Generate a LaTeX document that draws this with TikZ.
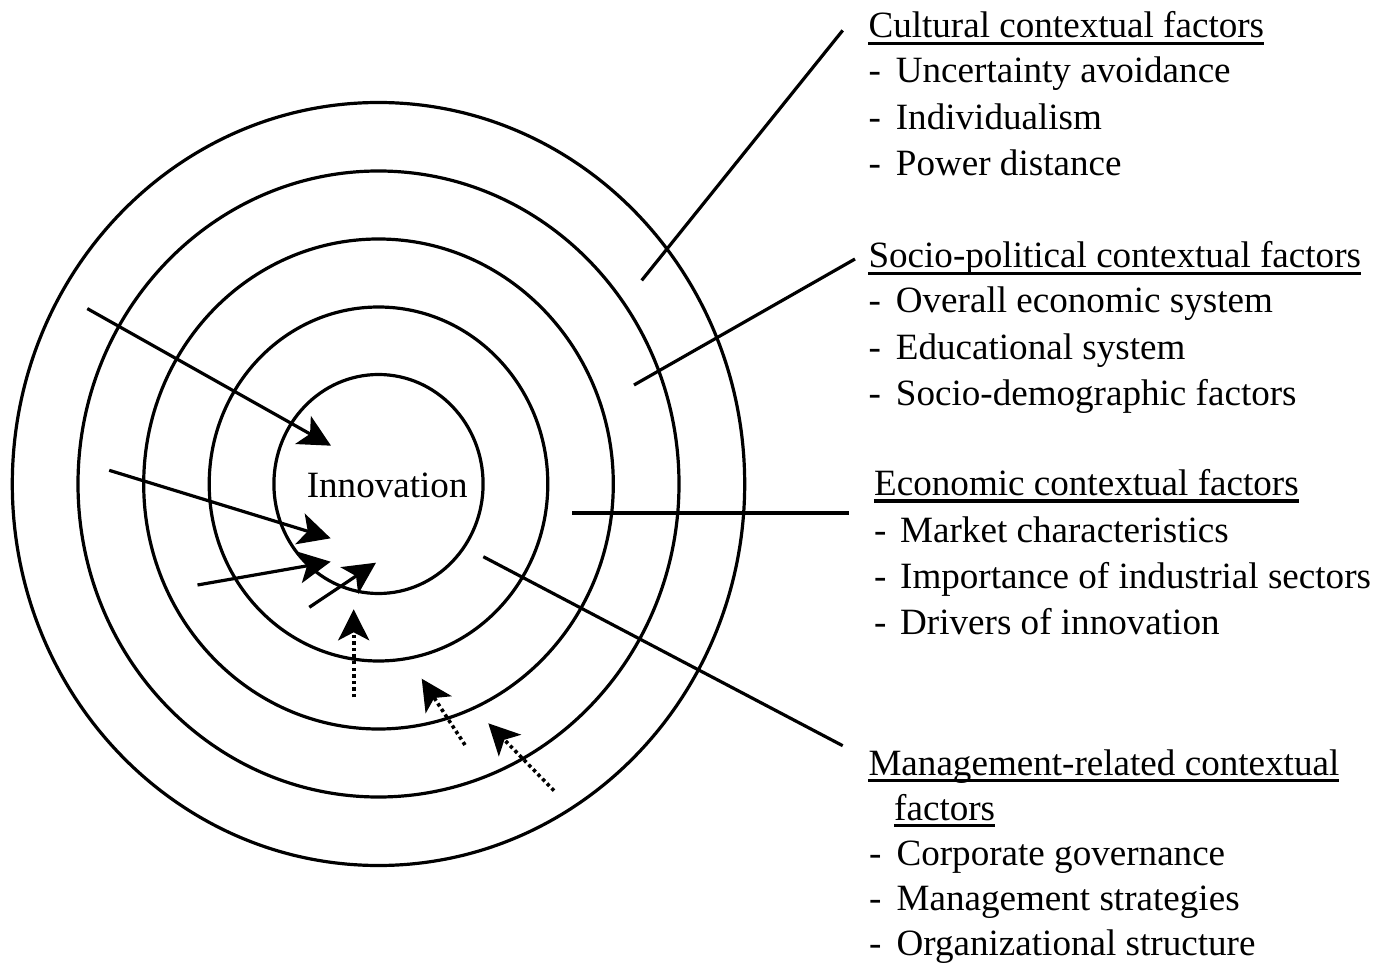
\documentclass[tikz,border=0pt]{standalone}
\usepackage{fontspec}
\setmainfont{Liberation Serif}
\usetikzlibrary{arrows.meta}
\newcommand\dashitem[2][27.4pt]{\makebox[#1][l]{-}#2}
\begin{document}
\begin{tikzpicture}[x=1pt,y=-1pt,
  ring/.style={line width=3.2pt},
  link/.style={line width=3.2pt},
  solidarrow/.style={line width=3.2pt,-{Stealth[length=32pt,width=32pt,inset=8pt]}},
  dotarrow/.style={line width=3.6pt,dash pattern=on 3.4pt off 3.2pt,-{Stealth[length=31pt,width=31pt,inset=8pt]}},
  lbl/.style={anchor=base west,inner sep=0pt,font=\fontsize{37.1}{44}\selectfont},
  uline/.style={line width=3.2pt}]
\useasboundingbox (0,0) rectangle (1379,965);

% concentric rings
\coordinate (ctr) at (378.5,484);
\draw[ring] (ctr) ellipse [x radius=366.2pt, y radius=381.5pt];
\draw[ring] (ctr) ellipse [x radius=300.5pt, y radius=313pt];
\draw[ring] (ctr) ellipse [x radius=234.8pt, y radius=245pt];
\draw[ring] (ctr) ellipse [x radius=169.3pt, y radius=177pt];
\draw[ring] (ctr) ellipse [x radius=104.6pt, y radius=109.5pt];

\node[anchor=base,inner sep=0pt,font=\fontsize{37.1}{44}\selectfont] (inn) at (387.2,497) {Innovation};

% labels
\node[lbl] (c0) at (868.3,38) {Cultural contextual factors};
\node[lbl] (c1) at (868.3,83) {\dashitem{Uncertainty avoidance}};
\node[lbl] (c2) at (868.3,129.5) {\dashitem{Individualism}};
\node[lbl] (c3) at (868.3,176) {\dashitem{Power distance}};

\node[lbl] (s0) at (868.3,268) {Socio-political contextual factors};
\node[lbl] (s1) at (868.3,313) {\dashitem{Overall economic system}};
\node[lbl] (s2) at (868.3,359.5) {\dashitem{Educational system}};
\node[lbl] (s3) at (868.3,406) {\dashitem{Socio-demographic factors}};

\node[lbl] (e0) at (874,495.5) {Economic contextual factors};
\node[lbl] (e1) at (874,542) {\dashitem[26pt]{Market characteristics}};
\node[lbl] (e2) at (874,588) {\dashitem[26pt]{Importance of industrial sectors}};
\node[lbl] (e3) at (874,634) {\dashitem[26pt]{Drivers of innovation}};

\node[lbl] (m0) at (868.3,775) {Management-related contextual};
\node[lbl] (m0b) at (894,820) {factors};
\node[lbl] (m1) at (869,865) {\dashitem{Corporate governance}};
\node[lbl] (m2) at (869,910) {\dashitem{Management strategies}};
\node[lbl] (m3) at (869,955) {\dashitem{Organizational structure}};

% underlines
\foreach \h in {c0,s0,e0,m0,m0b}
  \draw[uline] ([yshift=-5.5pt]\h.base west) -- ([yshift=-5.5pt]\h.base east);

% connector lines to the labels
\coordinate (cultIn) at (641.7,280.4);  \coordinate (cultOut) at (842.7,30.4);
\coordinate (socIn) at (634,385);       \coordinate (socOut) at (855,259);
\coordinate (ecoIn) at (572.3,513);     \coordinate (ecoOut) at (849.3,513);
\coordinate (manIn) at (483.3,556.7);   \coordinate (manOut) at (842.7,745.7);
\draw[link] (cultIn) -- (cultOut);
\draw[link] (socIn) -- (socOut);
\draw[link] (ecoIn) -- (ecoOut);
\draw[link] (manIn) -- (manOut);

% solid arrows
\coordinate (a1s) at (87.3,308.6);  \coordinate (a1t) at (331,445.7);
\coordinate (a2s) at (109.2,470.3); \coordinate (a2t) at (330.7,538.3);
\coordinate (a3s) at (197.5,585);   \coordinate (a3t) at (330.7,561.7);
\coordinate (a4s) at (309.3,607.3); \coordinate (a4t) at (376,562.7);
\draw[solidarrow] (a1s) -- (a1t);
\draw[solidarrow] (a2s) -- (a2t);
\draw[solidarrow] (a3s) -- (a3t);
\draw[solidarrow] (a4s) -- (a4t);

% dotted arrows
\coordinate (d1s) at (353.7,697.3); \coordinate (d1t) at (353.7,609.3);
\coordinate (d2s) at (465,745);     \coordinate (d2t) at (421.7,678.7);
\coordinate (d3s) at (554,790.7);   \coordinate (d3t) at (488.3,723.3);
\draw[dotarrow] (d1s) -- (d1t);
\draw[dotarrow] (d2s) -- (d2t);
\draw[dotarrow] (d3s) -- (d3t);
\end{tikzpicture}
\end{document}
